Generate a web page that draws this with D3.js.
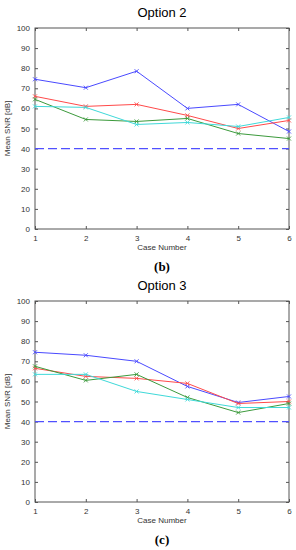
<!DOCTYPE html>
<html>
<head>
<meta charset="utf-8">
<script src="https://cdn.jsdelivr.net/npm/d3@7"></script>
<style>
  body { margin: 0; background: #fff; }
  svg text { font-family: "Liberation Sans", Arial, sans-serif; fill: #333; }
</style>
</head>
<body>
<div id="chart"></div>
<script>
// Case numbers on the x axis
var cases = [1, 2, 3, 4, 5, 6];
var yTicks = [0, 10, 20, 30, 40, 50, 60, 70, 80, 90, 100];
var threshold = 40;

// Option 2 (b)
var opt2Blue  = [74.5, 70.3, 78.5, 60, 62, 48.5];
var opt2Red   = [66, 61, 62, 56.5, 50, 54];
var opt2Green = [64.5, 54.5, 53.5, 55, 47.5, 45];
var opt2Cyan  = [61, 60.5, 52, 53, 51, 55.5];

// Option 3 (c)
var opt3Blue  = [74.5, 73, 70, 57.5, 49.5, 52.5];
var opt3Red   = [66.5, 62.5, 61.5, 59, 49, 50];
var opt3Green = [67.5, 60.5, 63.5, 52, 44.5, 49];
var opt3Cyan  = [63.5, 63.5, 55, 51, 47, 47];

var colors = { blue: "#4a4aff", red: "#ff4a4a", green: "#3c9a3c", cyan: "#3fd9d9" };

var svg = d3.select("#chart").append("svg")
    .attr("width", 296)
    .attr("height", 550);

function drawPanel(top, title, caption, series) {
    // plot box
    var left = 35, right = 289, plotTop = top, plotBottom = top + 201;

    var x = d3.scaleLinear().domain([1, 6]).range([left, right]);
    var y = d3.scaleLinear().domain([0, 100]).range([plotBottom, plotTop]);

    var g = svg.append("g");

    // title
    g.append("text")
        .attr("x", (left + right) / 2)
        .attr("y", plotTop - 11)
        .attr("text-anchor", "middle")
        .style("font-size", "13px")
        .style("fill", "#000")
        .text(title);

    // box
    g.append("rect")
        .attr("x", left).attr("y", plotTop)
        .attr("width", right - left).attr("height", plotBottom - plotTop)
        .attr("fill", "none").attr("stroke", "#555").attr("stroke-width", 1);

    // Add the axes (ticks pointing inwards, mirrored like MATLAB)
    var yAxis = d3.axisLeft(y).tickValues(yTicks).tickSize(-3).tickPadding(5);
    var yAxisR = d3.axisRight(y).tickValues(yTicks).tickSize(-3).tickFormat("");
    var xAxis = d3.axisBottom(x).tickValues(cases).tickSize(-3).tickPadding(6).tickFormat(d3.format("d"));
    var xAxisT = d3.axisTop(x).tickValues(cases).tickSize(-3).tickFormat("");

    [g.append("g").attr("transform", "translate(" + left + ",0)").call(yAxis),
     g.append("g").attr("transform", "translate(" + right + ",0)").call(yAxisR),
     g.append("g").attr("transform", "translate(0," + plotBottom + ")").call(xAxis),
     g.append("g").attr("transform", "translate(0," + plotTop + ")").call(xAxisT)]
        .forEach(function(a) {
            a.select(".domain").remove();
            a.selectAll(".tick line").attr("stroke", "#555");
            a.selectAll("text").style("font-size", "8px").style("fill", "#333")
                .style("font-family", "Liberation Sans, Arial, sans-serif");
        });

    // axis labels
    g.append("text")
        .attr("x", (left + right) / 2)
        .attr("y", plotBottom + 21)
        .attr("text-anchor", "middle")
        .style("font-size", "8px")
        .text("Case Number");

    g.append("text")
        .attr("transform", "translate(10," + (plotTop + plotBottom) / 2 + ") rotate(-90)")
        .attr("text-anchor", "middle")
        .style("font-size", "8px")
        .text("Mean SNR [dB]");

    // threshold line
    g.append("line")
        .attr("x1", x(1)).attr("x2", x(6))
        .attr("y1", y(threshold)).attr("y2", y(threshold))
        .attr("stroke", "#5050ff").attr("stroke-width", 1.2)
        .attr("stroke-dasharray", "9,4");

    var line = d3.line()
        .x(function(d, i) { return x(cases[i]); })
        .y(function(d) { return y(d); });

    series.forEach(function(s) {
        g.append("path")
            .attr("d", line(s.values))
            .attr("fill", "none")
            .attr("stroke", s.color)
            .attr("stroke-width", 1);

        // x markers
        s.values.forEach(function(v, i) {
            var cx = x(cases[i]), cy = y(v), r = 2;
            g.append("path")
                .attr("d", "M" + (cx - r) + "," + (cy - r) + "L" + (cx + r) + "," + (cy + r) +
                           "M" + (cx - r) + "," + (cy + r) + "L" + (cx + r) + "," + (cy - r))
                .attr("stroke", s.color)
                .attr("stroke-width", 0.9);
        });
    });

    // caption
    g.append("text")
        .attr("x", (left + right) / 2)
        .attr("y", plotBottom + 42)
        .attr("text-anchor", "middle")
        .style("font-family", "Liberation Serif, Times New Roman, serif")
        .style("font-size", "13px")
        .style("font-weight", "bold")
        .style("fill", "#000")
        .text(caption);
}

drawPanel(28, "Option 2", "(b)", [
    { color: colors.blue, values: opt2Blue },
    { color: colors.red, values: opt2Red },
    { color: colors.green, values: opt2Green },
    { color: colors.cyan, values: opt2Cyan }
]);

drawPanel(301, "Option 3", "(c)", [
    { color: colors.blue, values: opt3Blue },
    { color: colors.red, values: opt3Red },
    { color: colors.green, values: opt3Green },
    { color: colors.cyan, values: opt3Cyan }
]);
</script>
</body>
</html>
